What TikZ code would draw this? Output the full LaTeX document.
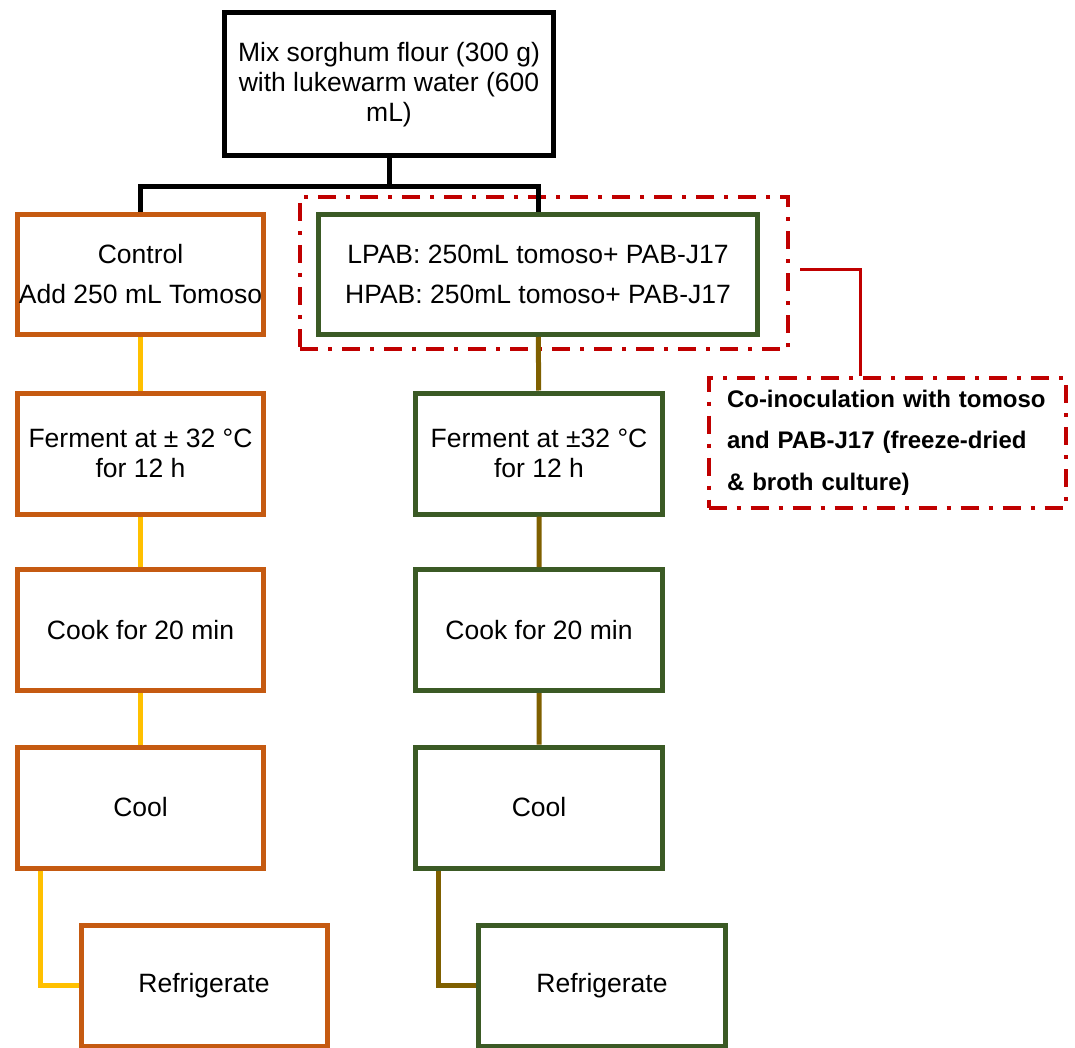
\documentclass[tikz,border=0pt]{standalone}
\usepackage{fontspec}
\setmainfont{Liberation Sans}
\usetikzlibrary{shapes,calc}
\definecolor{ctlorange}{HTML}{C55A11}
\definecolor{ctlyellow}{HTML}{FFC000}
\definecolor{pabgreen}{HTML}{3B5A25}
\definecolor{pabbrown}{HTML}{7F6000}
\definecolor{coired}{HTML}{C00000}

\begin{document}
\begin{tikzpicture}[x=1pt,y=-1pt]
    \tikzset{box/.style={draw,fill=white,line width=5pt,inner sep=0pt,align=center,font=\fontsize{26.5}{30}\selectfont},
        ctl/.style={box,draw=ctlorange,minimum width=246pt,minimum height=121pt},
        pab/.style={box,draw=pabgreen,minimum width=247pt,minimum height=121pt},
        redframe/.style={draw=coired,line width=4pt,dash pattern=on 18pt off 10pt on 4pt off 10pt},
        blkline/.style={line width=5pt},
        ctlline/.style={draw=ctlyellow,line width=5pt},
        pabline/.style={draw=pabbrown,line width=5pt}};
    \useasboundingbox (0,0) rectangle (1075,1048);
	\node (mix) at (389,84) [box,minimum width=329pt,minimum height=143pt,text depth=4pt]{Mix sorghum flour (300 g)\\with lukewarm water (600\\mL)};
	\node (grp) at (544,273) [redframe,minimum width=488pt,minimum height=152pt]{};
	\node (ctrl) at (140.5,274.5) [ctl,minimum height=120pt]{Control\\[10pt]Add 250 mL Tomoso};
	\node (lpab) at (538,274.5) [pab,minimum width=439pt,minimum height=120pt]{LPAB: 250mL tomoso+ PAB-J17\\[10pt]HPAB: 250mL tomoso+ PAB-J17};
	\node (coino) at (887,442.5) [redframe,minimum width=357pt,minimum height=130pt,text width=320pt,align=left,inner sep=0pt,font=\fontsize{24}{41.5}\selectfont\bfseries]{Co-inoculation with tomoso and PAB-J17 (freeze-dried \& broth culture)};
	\node (ferm1) at (140.5,453.5) [ctl]{Ferment at ± 32 °C\\for 12 h};
	\node (cook1) at (140.5,630) [ctl]{Cook for 20 min};
	\node (cool1) at (140.5,807.5) [ctl]{Cool};
	\node (frig1) at (204,985.5) [ctl]{Refrigerate};
	\node (ferm2) at (539,453.5) [pab]{Ferment at ±32 °C\\for 12 h};
	\node (cook2) at (539,630) [pab]{Cook for 20 min};
	\node (cool2) at (539,807.5) [pab]{Cool};
	\node (frig2) at (602,985.5) [pab]{Refrigerate};
	\coordinate (redstart) at (800,270);
	\coordinate (redbend) at (860,270);
	\draw[blkline] (mix.south) -- ++(0,29) coordinate (split) -| (ctrl.north);
	\draw[blkline] (split) -| (lpab.north);
	\draw[draw=coired,line width=3pt] (redstart) -- (redbend) -- (redbend |- coino.north);
	\draw[ctlline] (ctrl) -- (ferm1) (ferm1) -- (cook1) (cook1) -- (cool1);
	\draw[ctlline] ([xshift=25pt]cool1.south west) |- (frig1.west);
	\draw[pabline] (lpab) -- (ferm2) (ferm2) -- (cook2) (cook2) -- (cool2);
	\draw[pabline] ([xshift=25pt]cool2.south west) |- (frig2.west);
\end{tikzpicture}
\end{document}
